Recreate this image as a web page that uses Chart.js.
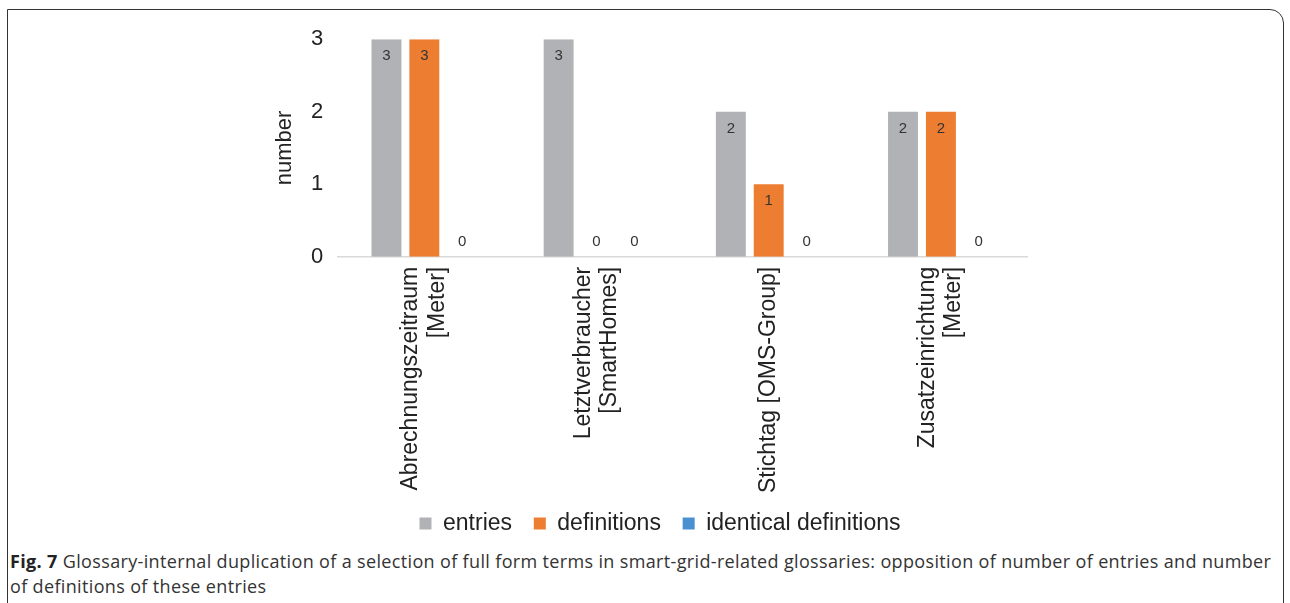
<!DOCTYPE html>
<html>
<head>
<meta charset="utf-8">
<script src="https://cdn.jsdelivr.net/npm/chart.js@4.4.0/dist/chart.umd.min.js"></script>
<style>
  html, body { margin: 0; padding: 0; background: #fff; }
  body { width: 1290px; height: 603px; position: relative; overflow: hidden; }
  #frame {
    position: absolute; left: 7px; top: 9px; width: 1277px; height: 620px;
    border: 1.5px solid #333; border-top-right-radius: 14px; box-sizing: border-box;
  }
  #wrap { position: absolute; left: 259px; top: 11px; width: 802px; height: 534px; }
  #caption {
    position: absolute; left: 10px; top: 549px; width: 1268px;
    font-family: "Open Sans", sans-serif; font-size: 18px; line-height: 25px; color: #333;
    letter-spacing: 0.35px;
  }
  #caption b { color: #222; }
</style>
</head>
<body>
<div id="frame"></div>
<div id="wrap"><canvas id="myChart"></canvas></div>
<div id="caption"><b>Fig. 7</b> Glossary-internal duplication of a selection of full form terms in smart-grid-related glossaries: opposition of number of entries and number of definitions of these entries</div>
<script>
let categorias=[
    ['Abrechnungszeitraum','[Meter]'],
    ['Letztverbraucher','[SmartHomes]'],
    'Stichtag [OMS-Group]',
    ['Zusatzeinrichtung','[Meter]']
]
let entries=[3, 3, 2, 2]
let definitions=[3, 0, 1, 2]
let identicas=[0, 0, 0, 0]
let ticksY=[0, 1, 2, 3]

const fonte='"Liberation Sans", Arial, sans-serif'
const alturaLinha=23*1.15

// valores escritos em cima das barras
const rotulos={
    id:'rotulos',
    afterDatasetsDraw(chart){
        const ctx=chart.ctx
        ctx.save()
        ctx.font='15px '+fonte
        ctx.fillStyle='#333'
        ctx.textAlign='center'
        ctx.textBaseline='middle'
        chart.data.datasets.forEach((ds,i)=>{
            chart.getDatasetMeta(i).data.forEach((bar,j)=>{
                let v=ds.data[j]
                let y = v>0 ? bar.y+17 : bar.base-15
                ctx.fillText(String(v), bar.x, y)
            })
        })
        ctx.restore()
    }
}

// centraliza os rotulos de duas linhas no eixo x
const centraliza={
    id:'centraliza',
    beforeDraw(chart){
        let itens=chart.scales.x.getLabelItems(chart.chartArea)
        itens.forEach(it=>{
            if(Array.isArray(it.label) && !it._ok){
                it.options.translation[0]-= (it.label.length-1)*alturaLinha/2
                it._ok=true
            }
        })
    }
}

const ctx=document.getElementById('myChart')
let a=new Chart(ctx,{
    type:'bar',
    data:{
        labels:categorias,
        datasets:[
            {label:'entries', data:entries, backgroundColor:'#b1b2b5'},
            {label:'definitions', data:definitions, backgroundColor:'#ed7d31'},
            {label:'identical definitions', data:identicas, backgroundColor:'#4a8fd0'}
        ]
    },
    options:{
        responsive:true,
        maintainAspectRatio:false,
        animation:false,
        datasets:{bar:{categoryPercentage:0.66, barPercentage:0.79}},
        layout:{padding:{top:0, right:0, left:0, bottom:0}},
        plugins:{
            legend:{
                position:'bottom',
                labels:{
                    boxWidth:12, boxHeight:12, padding:9,
                    color:'#222',
                    font:{size:23, family:fonte},
                    // espaco extra entre os itens
                    generateLabels:(chart)=>{
                        let itens=Chart.defaults.plugins.legend.labels.generateLabels(chart)
                        itens.forEach((it,i)=>{ if(i<itens.length-1) it.text+='  ' })
                        return itens
                    }
                }
            },
            tooltip:{enabled:false}
        },
        scales:{
            x:{
                grid:{display:false, drawTicks:false},
                border:{color:'#d9d9d9', width:1.5},
                ticks:{
                    minRotation:90, maxRotation:90, padding:10,
                    color:'#222',
                    font:{size:23, family:fonte, lineHeight:1.15}
                }
            },
            y:{
                min:0, max:3,
                afterBuildTicks:(ax)=>{ ax.ticks=ticksY.map(v=>({value:v})) },
                grid:{display:false, drawTicks:false},
                border:{display:false},
                ticks:{
                    padding:15, color:'#222',
                    font:{size:22, family:fonte}
                },
                title:{
                    display:true, text:'number', color:'#222', padding:{top:15, bottom:0},
                    font:{size:22, family:fonte, lineHeight:1.0}
                }
            },
            // so reserva espaco na direita
            y2:{
                position:'right',
                grid:{display:false, drawTicks:false},
                border:{display:false},
                ticks:{display:false},
                afterFit:(s)=>{ s.width=34 }
            }
        }
    },
    plugins:[rotulos, centraliza]
})
</script>
</body>
</html>
